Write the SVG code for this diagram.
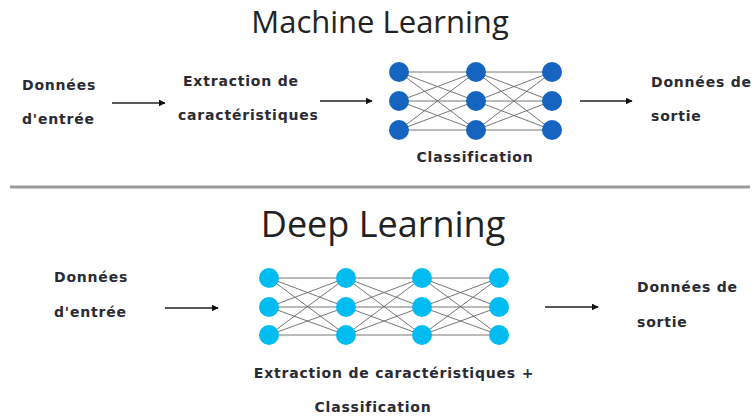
<svg xmlns="http://www.w3.org/2000/svg" width="756" height="420" viewBox="0 0 756 420">
<defs>
<marker id="ah" viewBox="0 0 10 10" refX="9" refY="5" markerWidth="7" markerHeight="7" markerUnits="userSpaceOnUse" orient="auto">
<path d="M0,0 L10,5 L0,10 z" fill="#111"/>
</marker>
<style>
.title{font-family:"Open Sans","Liberation Sans",sans-serif;fill:#222;text-anchor:middle}
.lbl{font-family:"DejaVu Sans","Liberation Sans",sans-serif;font-weight:bold;font-size:14px;letter-spacing:0.8px;fill:#2a2a33}
.arrow{stroke:#222;stroke-width:1.5;fill:none;marker-end:url(#ah)}
.edge{stroke:#666;stroke-width:0.9;fill:none}
.ml{fill:#1565c0}
.dl{fill:#00bcf0}
</style>
</defs>
<rect width="756" height="420" fill="#fff"/>
<text class="title" x="380" y="33" font-size="31">Machine Learning</text>
<text class="title" x="383" y="237" font-size="36">Deep Learning</text>
<line x1="10" y1="187" x2="750" y2="187" stroke="#9a9a9a" stroke-width="3"/>

<g id="ml-input"><text class="lbl" x="22" y="90">Données</text><text class="lbl" x="22" y="124">d'entrée</text></g>
<g id="ml-extract"><text class="lbl" x="183" y="86">Extraction de</text><text class="lbl" x="178" y="120">caractéristiques</text></g>
<g id="ml-output"><text class="lbl" x="651" y="87">Données de</text><text class="lbl" x="651" y="121">sortie</text></g>
<g id="ml-net">
<g class="edge">
<path d="M399,72L476,72M399,72L476,101M399,72L476,130M399,101L476,72M399,101L476,101M399,101L476,130M399,130L476,72M399,130L476,101M399,130L476,130"/>
<path d="M476,72L552,72M476,72L552,101M476,72L552,130M476,101L552,72M476,101L552,101M476,101L552,130M476,130L552,72M476,130L552,101M476,130L552,130"/>
</g>
<g class="ml">
<circle cx="399" cy="72" r="10"/><circle cx="399" cy="101" r="10"/><circle cx="399" cy="130" r="10"/>
<circle cx="476" cy="72" r="10"/><circle cx="476" cy="101" r="10"/><circle cx="476" cy="130" r="10"/>
<circle cx="552" cy="72" r="10"/><circle cx="552" cy="101" r="10"/><circle cx="552" cy="130" r="10"/>
</g>
<text class="lbl" x="475" y="162" text-anchor="middle">Classification</text>
</g>

<g id="dl-input"><text class="lbl" x="54" y="282">Données</text><text class="lbl" x="54" y="317">d'entrée</text></g>
<g id="dl-output"><text class="lbl" x="637" y="292">Données de</text><text class="lbl" x="637" y="327">sortie</text></g>
<g id="dl-net">
<g class="edge">
<path d="M269,278L346,278M269,278L346,307M269,278L346,335M269,307L346,278M269,307L346,307M269,307L346,335M269,335L346,278M269,335L346,307M269,335L346,335"/>
<path d="M346,278L422,278M346,278L422,307M346,278L422,335M346,307L422,278M346,307L422,307M346,307L422,335M346,335L422,278M346,335L422,307M346,335L422,335"/>
<path d="M422,278L499,278M422,278L499,307M422,278L499,335M422,307L499,278M422,307L499,307M422,307L499,335M422,335L499,278M422,335L499,307M422,335L499,335"/>
</g>
<g class="dl">
<circle cx="269" cy="278" r="10"/><circle cx="269" cy="307" r="10"/><circle cx="269" cy="335" r="10"/>
<circle cx="346" cy="278" r="10"/><circle cx="346" cy="307" r="10"/><circle cx="346" cy="335" r="10"/>
<circle cx="422" cy="278" r="10"/><circle cx="422" cy="307" r="10"/><circle cx="422" cy="335" r="10"/>
<circle cx="499" cy="278" r="10"/><circle cx="499" cy="307" r="10"/><circle cx="499" cy="335" r="10"/>
</g>
<text class="lbl" x="394" y="378" text-anchor="middle">Extraction de caractéristiques +</text>
<text class="lbl" x="373" y="412" text-anchor="middle">Classification</text>
</g>

<g id="connectors">
<line class="arrow" x1="112" y1="103" x2="165" y2="103"/>
<line class="arrow" x1="320" y1="101" x2="372" y2="101"/>
<line class="arrow" x1="580" y1="101" x2="632" y2="101"/>
<line class="arrow" x1="165" y1="308" x2="218" y2="308"/>
<line class="arrow" x1="545" y1="307" x2="598" y2="307"/>
</g>
</svg>
